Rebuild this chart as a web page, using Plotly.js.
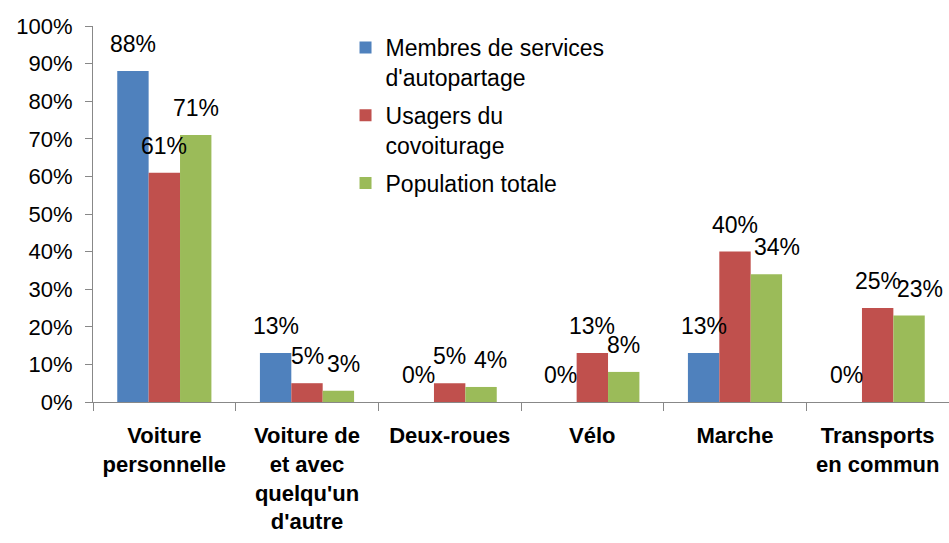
<!DOCTYPE html>
<html>
<head>
<meta charset="utf-8">
<script src="https://cdn.plot.ly/plotly-3.0.1.min.js"></script>
<style>html,body{margin:0;padding:0;background:#fff;}#chart{width:949px;height:543px;}</style>
</head>
<body>
<div id="chart"></div>
<script>
const categories = [
  "Voiture<br>personnelle",
  "Voiture de<br>et avec<br>quelqu'un<br>d'autre",
  "Deux-roues",
  "Vélo",
  "Marche",
  "Transports<br>en commun"
];
const seriesNames = [
  "Membres de services<br>d'autopartage",
  "Usagers du<br>covoiturage",
  "Population totale"
];
const autopartage = [88, 13, 0, 0, 13, 0];
const covoiturage = [61, 5, 5, 13, 40, 25];
const population = [71, 3, 4, 8, 34, 23];
const colors = ["#4F81BD", "#C0504D", "#9BBB59"];

const FONT = "Liberation Sans, Arial, sans-serif";
const allSeries = [autopartage, covoiturage, population];

const traces = allSeries.map((vals, i) => ({
  type: "bar",
  name: seriesNames[i],
  legendgroup: "g" + i,
  x: categories,
  y: vals.map(v => v / 100),
  marker: {color: colors[i], line: {width: 0}},
  hoverinfo: "none"
}));

// bar width in px: plot width / 6 categories * (1 - bargap) / 3
const plotW = 949 - 93;
const bargap = 0.34;
const barPx = plotW / categories.length * (1 - bargap) / 3;

// small horizontal label nudges (px) as in the reference, to avoid overlaps
const labelNudge = {"2-1": 5, "2-2": 9, "2-4": 11, "2-5": 11};

const annotations = [];
allSeries.forEach((vals, i) => {
  vals.forEach((v, j) => {
    annotations.push({
      x: categories[j], y: v / 100, xref: "x", yref: "y",
      text: v + "%", showarrow: false,
      xanchor: "center", yanchor: "bottom",
      xshift: (i - 1) * barPx + (labelNudge[i + "-" + j] || 0), yshift: 12,
      font: {family: FONT, size: 23, color: "#000"}
    });
  });
});

const layout = {
  width: 949, height: 543,
  margin: {l: 93, r: 0, t: 26, b: 141},
  paper_bgcolor: "#fff", plot_bgcolor: "#fff",
  barmode: "group", bargap: bargap, bargroupgap: 0,
  font: {family: FONT, size: 22, color: "#000"},
  xaxis: {
    type: "category",
    showline: true, linecolor: "#888", linewidth: 1,
    ticks: "outside", tickson: "boundaries", ticklen: 8, tickcolor: "#888",
    tickfont: {family: FONT, size: 22, color: "#000", weight: "bold"},
    ticklabelstandoff: 14,
    showgrid: false, zeroline: false
  },
  yaxis: {
    range: [0, 1], dtick: 0.1, tickformat: ".0%",
    showline: true, linecolor: "#888", linewidth: 1,
    ticks: "outside", ticklen: 7, tickcolor: "#888",
    tickfont: {family: FONT, size: 22, color: "#000"},
    ticklabelstandoff: 8,
    showgrid: false, zeroline: false
  },
  showlegend: true,
  legend: {
    x: 0.295, y: 1.0, xanchor: "left", yanchor: "top",
    valign: "top", tracegroupgap: 5,
    font: {family: FONT, size: 23, color: "#000"},
    bgcolor: "rgba(0,0,0,0)", itemclick: false
  },
  annotations: annotations
};

Plotly.newPlot("chart", traces, layout, {displayModeBar: false, staticPlot: true});
</script>
</body>
</html>
